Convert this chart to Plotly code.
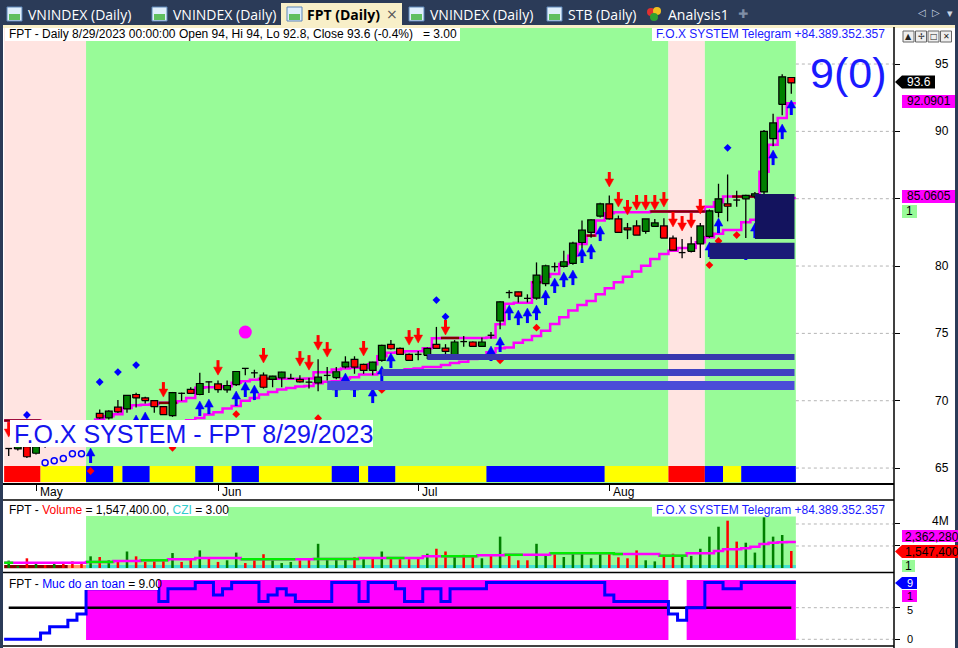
import plotly.graph_objects as go

W, H = 958, 648
FONT = "Liberation Sans, Arial, sans-serif"

# ---- FPT daily bars, 25 Apr -> 29 Aug 2023 (bar index 0..86) ----
OPEN = [66.45, 66.42, 66.58, 66.1, 66.6, 67.1, 67.4, 67.6, 68.0, 67.8,
        69.06, 68.73, 69.52, 69.39, 70.46, 70.21, 70.01, 69.56, 68.9, 70.55,
        70.84, 70.46, 71.4, 71.25, 70.8, 71.2, 72.4, 72.07, 71.9, 71.58,
        71.7, 71.65, 71.58, 71.38, 71.33, 71.88, 71.72, 72.52, 73.07, 72.7,
        72.25, 72.99, 74.19, 73.89, 73.44, 73.44, 73.37, 74.19, 73.91, 73.26,
        74.39, 74.36, 74.04, 74.86, 75.92, 78.03, 78.08, 77.6, 77.62, 78.7,
        79.95, 79.97, 80.2, 81.75, 82.5, 83.7, 84.62, 83.5, 82.83, 82.98,
        82.58, 82.95, 82.98, 82.08, 81.0, 81.09, 81.64, 82.2, 83.99, 84.62,
        84.9, 84.99, 85.2, 85.5, 89.46, 92.0, 94.0]
HIGH = [66.45, 66.6, 66.6, 66.6, 67.3, 67.6, 67.9, 68.2, 68.3, 68.4,
        69.34, 69.3, 70.05, 70.4, 70.6, 70.3, 70.05, 69.6, 70.65, 70.6,
        71.0, 72.07, 71.42, 71.5, 71.5, 72.2, 72.42, 72.3, 72.1, 71.85,
        72.15, 72.0, 71.9, 71.7, 73.07, 72.5, 72.5, 73.3, 73.3, 72.75,
        72.9, 74.15, 74.5, 73.95, 73.5, 73.7, 73.95, 75.48, 74.2, 74.5,
        74.8, 74.4, 74.7, 75.1, 77.4, 78.2, 78.1, 77.9, 80.27, 80.1,
        80.27, 81.14, 81.8, 83.38, 83.5, 84.7, 85.24, 83.75, 83.2, 83.4,
        83.5, 83.5, 83.55, 82.26, 82.0, 82.18, 83.2, 84.2, 86.11, 86.8,
        85.6, 85.3, 85.5, 90.1, 91.3, 94.25, 94.0]
LOW = [65.9, 66.3, 65.75, 66.0, 66.5, 66.9, 67.1, 67.3, 67.5, 67.5,
       68.67, 68.6, 69.09, 69.1, 69.5, 69.8, 69.1, 68.95, 68.8, 70.0,
       70.5, 70.4, 70.58, 70.6, 70.6, 71.1, 71.9, 71.7, 70.9, 71.0,
       71.0, 71.65, 71.35, 70.9, 70.7, 71.5, 71.6, 72.4, 72.0, 72.0,
       71.9, 72.9, 73.8, 73.4, 73.0, 73.0, 73.1, 73.85, 73.3, 73.2,
       74.0, 74.0, 74.0, 74.6, 75.3, 77.6, 77.3, 77.3, 77.5, 78.5,
       79.6, 79.9, 80.1, 81.3, 82.1, 83.6, 83.45, 82.5, 82.0, 82.3,
       82.4, 82.9, 82.08, 81.18, 80.57, 81.0, 80.6, 82.1, 83.6, 83.32,
       84.4, 82.09, 85.0, 85.0, 88.9, 91.2, 92.8]
CLOSE = [66.45, 66.58, 65.84, 66.58, 67.1, 67.4, 67.6, 68.0, 67.8, 68.3,
         68.73, 69.22, 69.17, 70.39, 70.21, 70.01, 69.56, 68.97, 70.6, 70.55,
         70.54, 71.28, 71.4, 70.83, 71.13, 72.17, 72.4, 72.07, 71.0, 71.83,
         72.12, 71.65, 71.4, 71.38, 71.75, 71.88, 72.15, 72.87, 72.5, 72.25,
         72.87, 74.11, 73.86, 73.44, 73.0, 73.44, 73.89, 73.89, 73.66, 74.36,
         74.39, 74.04, 74.36, 74.86, 77.34, 78.03, 77.76, 77.6, 79.33, 80.02,
         79.95, 80.32, 81.7, 82.66, 83.43, 84.62, 83.5, 82.5, 82.68, 82.3,
         83.5, 83.2, 82.08, 81.18, 81.0, 81.64, 82.98, 84.1, 84.99, 84.44,
         84.9, 85.24, 85.36, 90.0, 90.63, 94.05, 93.6]

MONTHS = ["May", "Jun", "Jul", "Aug"]
MONTH_START = [3, 23, 45, 66]

# trailing stops (magenta staircases)
STOP_FAST = [68.53, 68.53, 68.53, 68.53, 68.3, 68.3, 68.3, 68.3, 68.3, 68.3,
             68.6, 68.85, 69.0, 69.46, 69.66, 69.7, 69.76, 69.84, 69.84, 69.96,
             70.2, 70.96, 71.0, 71.0, 71.08, 71.33, 71.45, 71.55, 71.63, 71.63,
             71.63, 71.63, 71.63, 71.65, 72.12, 72.12, 72.32, 72.4, 72.44, 72.44,
             72.7, 73.3, 73.56, 73.6, 73.68, 73.68, 73.9, 74.63, 74.66, 74.66,
             74.66, 74.66, 74.66, 74.7, 75.68, 77.2, 77.28, 77.28, 78.8, 79.2,
             79.4, 80.15, 80.77, 81.64, 82.26, 83.38, 83.92, 84.0, 84.0, 84.0,
             84.0, 84.05, 84.05, 84.05, 84.05, 84.05, 84.05, 84.4, 84.74, 85.16,
             85.16, 85.16, 85.16, 87.0, 89.0, 91.0, 92.0901]
STOP_SLOW = [None, None, 66.8, 66.9, 67.0, 67.1, 67.3, 67.5, 67.7, 67.9,
             68.0, 68.1, 68.2, 68.25, 68.3, 68.35, 68.4, 68.45, 68.45, 68.45,
             68.55, 68.72, 68.97, 69.15, 69.42, 69.6, 70.0, 70.2, 70.46, 70.65,
             70.83, 70.95, 71.06, 71.1, 71.3, 71.4, 71.45, 71.65, 71.75, 71.95,
             71.95, 72.1, 72.2, 72.25, 72.33, 72.4, 72.5, 72.5, 72.65, 72.8,
             72.9, 73.1, 73.3, 73.6, 73.9, 73.95, 74.3, 74.5, 74.8, 75.2,
             75.7, 76.2, 76.7, 77.1, 77.4, 77.9, 78.36, 78.8, 79.2, 79.6,
             80.02, 80.52, 80.9, 81.14, 81.34, 81.34, 81.76, 82.13, 82.4, 82.68,
             82.68, 83.25, 83.43, 83.9, 84.3, 84.7, 85.0605]
STOP_FAST_HOLD = [0, 1, 2, 3, 17, 18, 28, 29, 48, 49, 58, 64, 71, 72, 73, 74, 75, 76, 80, 81, 82]

SELL_BARS = [0, 17, 23, 28, 32, 33, 34, 35, 39, 44, 45, 48,
             66, 67, 68, 69, 70, 71, 72, 73, 74, 75, 76]
SELL_TIPS = [67.3, 70.27, 71.9, 72.8, 72.57, 72.27, 73.76, 73.24, 73.32, 74.13, 74.28, 74.88,
             85.87, 84.38, 83.79, 84.16, 84.16, 84.16, 84.38, 82.9, 82.6, 82.82, 83.86]
BUY_BARS = [9, 14, 15, 21, 22, 25, 26, 27, 36, 37, 38, 40, 41, 42,
            53, 54, 55, 56, 57, 58, 59, 60, 61, 62, 63, 64, 65,
            77, 78, 81, 82, 84, 85, 86]
BUY_TIPS = [66.49, 68.94, 69.16, 69.98, 70.12, 70.72, 71.39, 71.16, 71.39, 72.05, 71.39, 70.94, 72.57, 73.54,
            74.06, 74.73, 77.1, 76.73, 76.88, 77.1, 78.22, 79.11, 79.55, 79.7, 81.34, 81.63, 82.97,
            81.78, 83.56, 81.56, 83.19, 88.61, 90.54, 92.33]
BLUE_DOT_BARS = [2, 10, 12, 14, 47, 48, 79]
BLUE_DOT_Y = [68.94, 71.39, 72.13, 72.65, 77.47, 76.24, 88.78]
RED_DOT_BARS = [9, 18, 25, 34, 41, 54, 58, 77, 78, 80]
RED_DOT_Y = [64.78, 66.5, 69.0, 68.7, 70.8, 73.0, 75.42, 80.07, 81.86, 82.3]
RING_BARS = [4, 5, 6, 7, 8]
RING_Y = [65.4, 65.55, 65.7, 66.07, 66.07]
BIG_DOT_BAR, BIG_DOT_Y = 26, 75.1

BG_RUNS = [("pink", 9), ("green", 64), ("pink", 4), ("green", 10)]
BAND_RUNS = [("red", 4), ("yellow", 5), ("blue", 3), ("yellow", 1), ("blue", 3), ("yellow", 5),
             ("blue", 2), ("yellow", 2), ("blue", 3), ("yellow", 8), ("blue", 3), ("yellow", 1),
             ("blue", 3), ("yellow", 10), ("blue", 13), ("yellow", 7), ("red", 4), ("blue", 2),
             ("yellow", 2), ("blue", 6)]
ZONES = [  # first bar, low, high, colour
    (35, 70.79, 71.46, "#4b4bd8"),
    (41, 71.83, 72.35, "#4141c2"),
    (46, 73.02, 73.47, "#3838ae"),
    (77, 80.52, 81.73, "#1b1b78"),
    (82, 82.0, 85.35, "#13135e"),
]

# ---- volume pane (millions of shares) ----
VOLUME_MLN = [0.67, 0.2, 0.88, 0.4, 0.27, 0.4, 0.55, 0.6, 0.48, 1.06,
              1.0, 0.7, 0.6, 1.5, 1.06, 0.55, 0.6, 0.7, 1.36, 0.55,
              0.79, 1.6, 0.88, 0.55, 0.7, 1.4, 0.45, 0.7, 1.25, 0.7,
              0.45, 0.55, 0.7, 0.88, 2.2, 0.88, 0.88, 0.8, 0.97, 0.8,
              0.97, 1.5, 0.97, 0.8, 0.8, 0.97, 1.3, 1.75, 1.5, 1.06,
              1.2, 1.15, 0.88, 1.25, 2.85, 1.2, 0.7, 0.7, 2.2, 1.25,
              1.25, 1.0, 1.3, 1.3, 0.88, 1.45, 1.3, 0.97, 0.88, 1.6,
              0.7, 0.6, 1.15, 1.3, 1.1, 1.1, 1.75, 2.85, 3.75, 4.3,
              2.4, 2.3, 1.4, 4.6, 2.85, 3.0, 1.5474]
VOL_UP = [1, 1, 0, 1, 0, 1, 0, 0, 0, 1,
          0, 1, 0, 1, 0, 0, 0, 0, 1, 0,
          0, 1, 0, 0, 1, 1, 0, 0, 0, 1,
          1, 1, 0, 0, 1, 1, 1, 1, 0, 1,
          0, 1, 0, 0, 0, 0, 1, 0, 0, 1,
          0, 0, 1, 0, 1, 0, 0, 0, 1, 1,
          0, 1, 1, 1, 1, 1, 0, 0, 0, 0,
          1, 1, 0, 0, 1, 1, 1, 1, 1, 0,
          0, 1, 1, 1, 1, 1, 0]
VOL_MA_MLN = [0.48, 0.48, 0.48, 0.48, 0.48, 0.48, 0.48, 0.48, 0.48, 0.55,
              0.55, 0.55, 0.64, 0.64, 0.64, 0.7, 0.7, 0.7, 0.79, 0.79,
              0.79, 0.91, 0.91, 0.91, 0.91, 0.91, 0.79, 0.79, 0.79, 0.79,
              0.79, 0.79, 0.79, 0.79, 0.82, 0.82, 0.82, 0.82, 0.82, 0.91,
              0.91, 0.91, 0.91, 0.91, 0.91, 0.91, 1.06, 1.06, 1.06, 1.06,
              1.06, 1.06, 1.15, 1.15, 1.15, 1.2, 1.2, 1.2, 1.2, 1.2,
              1.33, 1.33, 1.33, 1.33, 1.33, 1.33, 1.33, 1.27, 1.27, 1.27,
              1.27, 1.27, 1.12, 1.12, 1.12, 1.33, 1.33, 1.33, 1.55, 1.7,
              1.7, 1.8, 1.94, 2.18, 2.3, 2.33, 2.36228]
VOL_MA_UP = [1, 0, 0, 0, 0, 0, 0, 0, 0, 1,
             1, 1, 0, 0, 0, 1, 1, 1, 0, 0,
             0, 0, 0, 0, 0, 0, 1, 1, 1, 1,
             1, 1, 0, 0, 1, 1, 1, 1, 1, 0,
             0, 0, 1, 1, 0, 0, 0, 0, 1, 1,
             1, 1, 0, 0, 0, 1, 1, 0, 0, 0,
             1, 1, 1, 1, 1, 1, 1, 1, 0, 0,
             0, 0, 1, 1, 1, 0, 0, 0, 0, 0,
             0, 0, 0, 0, 0, 0, 0]
VOL_STRIP_RUNS = [("darkred", 7), ("orange", 2), ("cyan", 78)]

# ---- "Muc do an toan" (safety level) pane ----
SAFETY = [0, 0, 0, 0, 1, 2, 2, 3, 4, 8,
          8, 8, 8, 8, 8, 8, 8, 6, 8, 8,
          8, 9, 9, 7, 8, 9, 9, 9, 6, 7,
          8, 7, 6, 6, 6, 6, 9, 9, 9, 6,
          9, 9, 9, 8, 6, 6, 8, 8, 6, 8,
          8, 8, 8, 9, 9, 9, 9, 9, 9, 9,
          9, 9, 9, 9, 9, 9, 7, 6, 6, 6,
          6, 6, 6, 4, 3, 5, 5, 9, 9, 8,
          8, 9, 9, 9, 9, 9, 9]
SAFE_LEVEL = 5

COL = {"pink": "#ffe4e1", "green": "#98fb98", "red": "#ff0000", "yellow": "#ffff00",
       "blue": "#0000ff", "darkred": "#800000", "orange": "#ff9966", "cyan": "#40e0d0"}
NAVY = "#2b3b58"
CREAM = "#f8efc8"

N = len(CLOSE)
XR = [(3 - 8.7) / 9.1, (894 - 8.7) / 9.1]          # bar 0 at x=8.7px, 9.1px per bar
PRICE_RANGE = [63.89, 97.75]
VOL_RANGE = [-0.364e6, 6.18e6]
SAFE_RANGE = [-1.06, 10.49]
PPX = (PRICE_RANGE[1] - PRICE_RANGE[0]) / (483 - 27)  # price units per pixel


def px(x):
    return x / W


def py(y):
    return 1 - y / H


def expand(run_list):
    out = []
    for c, k in run_list:
        out += [c] * k
    return out


def runs(seq):
    out, s = [], 0
    for i in range(1, len(seq) + 1):
        if i == len(seq) or seq[i] != seq[s]:
            out.append((s, i - 1, seq[s]))
            s = i
    return out


def steps(vals):
    pts = [(i, v) for i, v in enumerate(vals) if v is not None]
    return [i - 0.5 for i, _ in pts] + [pts[-1][0] + 0.5], [v for _, v in pts] + [pts[-1][1]]


def segments(vals, keep):
    xs, ys = [], []
    for s, e, flag in runs(keep):
        if not flag:
            continue
        x, y = steps(vals[s:e + 1])
        xs += [v + s for v in x] + [None]
        ys += y + [None]
    return xs, ys


fig = go.Figure()
shapes, notes = [], []


def rect_px(x0, y0, x1, y1, fill, line=None, lw=0, layer="above"):
    shapes.append(dict(type="rect", xref="paper", yref="paper", x0=px(x0), x1=px(x1),
                       y0=py(y1), y1=py(y0), fillcolor=fill, layer=layer,
                       line=dict(color=line or fill, width=lw)))


def line_px(x0, y0, x1, y1, color="black", w=1.5):
    shapes.append(dict(type="line", xref="paper", yref="paper", x0=px(x0), x1=px(x1),
                       y0=py(y0), y1=py(y1), line=dict(color=color, width=w)))


def tag_px(x0, y0, x1, y1, fill, arrow=False):
    ym = (y0 + y1) / 2
    if arrow:
        pts = [(x0 - 7, ym), (x0, y0), (x1, y0), (x1, y1), (x0, y1)]
    else:
        pts = [(x0, y0), (x1, y0), (x1, y1), (x0, y1)]
    path = "M " + " L ".join(f"{px(a):.5f},{py(b):.5f}" for a, b in pts) + " Z"
    shapes.append(dict(type="path", xref="paper", yref="paper", path=path,
                       fillcolor=fill, line=dict(width=0), layer="above"))


def note(text, x, y, size=12, color="black", anchor="left", family=FONT, xref="paper", yref="paper",
         yshift=0):
    notes.append(dict(text=text, x=px(x) if xref == "paper" else x, y=py(y) if yref == "paper" else y,
                      xref=xref, yref=yref, xanchor=anchor, yanchor="middle", showarrow=False,
                      yshift=yshift, font=dict(family=family, size=size, color=color)))


# ---------------- price pane backgrounds ----------------
for s, e, c in runs(expand(BG_RUNS)):
    shapes.append(dict(type="rect", xref="x", yref="y", layer="below",
                       x0=max(s - 0.5, XR[0]), x1=e + 0.5, y0=PRICE_RANGE[0], y1=PRICE_RANGE[1],
                       fillcolor=COL[c], line=dict(width=0)))
for s, e, c in runs(expand(BAND_RUNS)):
    shapes.append(dict(type="rect", xref="x", yref="y", layer="below",
                       x0=max(s - 0.5, XR[0]), x1=e + 0.5, y0=63.96, y1=65.15,
                       fillcolor=COL[c], line=dict(width=0)))
for t in [65, 70, 75, 80, 85, 90, 95]:
    shapes.append(dict(type="line", xref="x", yref="y", x0=N - 0.5, x1=XR[1], y0=t, y1=t,
                       line=dict(color="#b4b4b4", width=1, dash="dot"), layer="below"))

# ---------------- price pane traces ----------------
xs, ys = steps(STOP_SLOW)
fig.add_trace(go.Scatter(x=xs, y=ys, mode="lines", line=dict(color="#ff00ff", width=2.5, shape="hv")))
xs, ys = steps(STOP_FAST)
fig.add_trace(go.Scatter(x=xs, y=ys, mode="lines", line=dict(color="#ff00ff", width=2.5, shape="hv")))
xs, ys = segments(STOP_FAST, [1 if i in STOP_FAST_HOLD else 0 for i in range(N)])
fig.add_trace(go.Scatter(x=xs, y=ys, mode="lines", line=dict(color="#800000", width=2.5, shape="hv")))

wx, wy = [], []
bodies = {"up": ([], []), "dn": ([], [])}
HW = 0.37
for i, (o, h, l, c) in enumerate(zip(OPEN, HIGH, LOW, CLOSE)):
    lo, hi = min(o, c), max(o, c)
    if o == c:
        wx += [i, i, None, i - HW, i + HW, None]
        wy += [l, h, None, c, c, None]
        continue
    if l < lo:
        wx += [i, i, None]
        wy += [l, lo, None]
    if h > hi:
        wx += [i, i, None]
        wy += [hi, h, None]
    bx, by = bodies["up" if c > o else "dn"]
    bx += [i - HW, i + HW, i + HW, i - HW, i - HW, None]
    by += [lo, lo, hi, hi, lo, None]
fig.add_trace(go.Scatter(x=wx, y=wy, mode="lines", line=dict(color="black", width=1.3)))
for k, fc in [("up", "#008000"), ("dn", "#ff0000")]:
    bx, by = bodies[k]
    fig.add_trace(go.Scatter(x=bx, y=by, mode="lines", fill="toself", fillcolor=fc,
                             line=dict(color="black", width=1.2)))

fig.add_trace(go.Scatter(x=RED_DOT_BARS, y=RED_DOT_Y, mode="markers",
                         marker=dict(symbol="diamond", size=6, color="#ff0000", line_width=0)))
fig.add_trace(go.Scatter(x=BLUE_DOT_BARS, y=BLUE_DOT_Y, mode="markers",
                         marker=dict(symbol="diamond", size=6, color="#0000ff", line_width=0)))
fig.add_trace(go.Scatter(x=RING_BARS, y=RING_Y, mode="markers",
                         marker=dict(symbol="circle-open", size=6, color="#0000ff", line=dict(width=1.5))))
fig.add_trace(go.Scatter(x=[BIG_DOT_BAR], y=[BIG_DOT_Y], mode="markers",
                         marker=dict(symbol="circle", size=13, color="#ff00ff", line_width=0)))


def arrows(bars, tips, color, up):
    d = 1 if up else -1
    sx, sy, hx, hy = [], [], [], []
    for b, t in zip(bars, tips):
        sx += [b, b, None]
        sy += [t - d * 7 * PPX, t - d * 15 * PPX, None]
        hx += [b - 0.48, b + 0.48, b, b - 0.48, None]
        hy += [t - d * 8 * PPX, t - d * 8 * PPX, t, t - d * 8 * PPX, None]
    fig.add_trace(go.Scatter(x=sx, y=sy, mode="lines", line=dict(color=color, width=3)))
    fig.add_trace(go.Scatter(x=hx, y=hy, mode="lines", fill="toself", fillcolor=color,
                             line=dict(color=color, width=0.5)))


arrows(SELL_BARS, SELL_TIPS, "#ff0000", False)
arrows(BUY_BARS, BUY_TIPS, "#0000ff", True)

for start, lo, hi, col in ZONES:
    shapes.append(dict(type="rect", xref="x", yref="y", x0=start, x1=N - 1 + 0.35, y0=lo, y1=hi,
                       fillcolor=col, line=dict(width=0), layer="above"))

# ---------------- volume pane ----------------
first_green = next(s for s, e, c in runs(expand(BG_RUNS)) if c == "green")
shapes.append(dict(type="rect", xref="x2", yref="y2", layer="below", x0=first_green - 0.5, x1=N - 0.5,
                   y0=0, y1=5.55e6, fillcolor=COL["green"], line=dict(width=0)))
for s, e, c in runs(expand(VOL_STRIP_RUNS)):
    shapes.append(dict(type="rect", xref="x2", yref="y2", layer="below",
                       x0=max(s - 0.5, XR[0]), x1=e + 0.5, y0=-0.03e6, y1=0.28e6,
                       fillcolor=COL[c], line=dict(width=0)))
for t in [2e6, 4e6]:
    shapes.append(dict(type="line", xref="x2", yref="y2", x0=N - 0.5, x1=XR[1], y0=t, y1=t,
                       line=dict(color="#b4b4b4", width=1, dash="dot"), layer="below"))
fig.add_trace(go.Bar(x=list(range(N)), y=[v * 1e6 for v in VOLUME_MLN], width=0.28,
                     marker=dict(color=["#008000" if u else "#ff0000" for u in VOL_UP], line_width=0),
                     xaxis="x2", yaxis="y2"))
ma = [v * 1e6 for v in VOL_MA_MLN]
xs, ys = steps(ma)
fig.add_trace(go.Scatter(x=xs, y=ys, mode="lines", line=dict(color="#ff00ff", width=2.5, shape="hv"),
                         xaxis="x2", yaxis="y2"))
xs, ys = segments(ma, VOL_MA_UP)
fig.add_trace(go.Scatter(x=xs, y=ys, mode="lines", line=dict(color="#00ee00", width=2.5, shape="hv"),
                         xaxis="x2", yaxis="y2"))

# ---------------- safety pane ----------------
for s, e, ok in runs([v >= SAFE_LEVEL for v in SAFETY]):
    if ok:
        shapes.append(dict(type="rect", xref="x3", yref="y3", layer="below", x0=s - 0.5, x1=e + 0.5,
                           y0=-0.1, y1=9.4, fillcolor="#ff00ff", line=dict(width=0)))
for t in [0, 5]:
    shapes.append(dict(type="line", xref="x3", yref="y3", x0=N - 0.5, x1=XR[1], y0=t, y1=t,
                       line=dict(color="#b4b4b4", width=1, dash="dot"), layer="below"))
fig.add_trace(go.Scatter(x=[0, N - 1], y=[SAFE_LEVEL, SAFE_LEVEL], mode="lines",
                         line=dict(color="black", width=2.5), xaxis="x3", yaxis="y3"))
xs, ys = steps(SAFETY)
fig.add_trace(go.Scatter(x=xs, y=ys, mode="lines", line=dict(color="#0000ff", width=3, shape="hv"),
                         xaxis="x3", yaxis="y3"))

# ---------------- frame, tabs, separators ----------------
rect_px(0, 0, W, 25, NAVY)
rect_px(0, 25, W, 28, CREAM)
rect_px(0, 25, 3, H, NAVY)
rect_px(955, 25, W, H, NAVY)
rect_px(281, 3, 402, 28, CREAM)
TABS = [("VNINDEX (Daily)", 7), ("VNINDEX (Daily)", 152), ("FPT (Daily)", 287),
        ("VNINDEX (Daily)", 409), ("STB (Daily)", 547)]
for k, (label, x) in enumerate(TABS):
    rect_px(x, 7, x + 15, 21, "#dfeefb", "#5d86b8", 1)
    rect_px(x + 2, 14, x + 13, 20, "#5fbf5f")
    if k == 2:
        note("<b>" + label + "</b>", x + 18, 14.5, 14, "black", family="Open Sans, sans-serif")
        note("×", 392, 13.5, 14, "#555555", "center", family="DejaVu Sans")
    else:
        note(label, x + 19, 14.5, 14, "white", family="Open Sans, sans-serif")
for cx, cy, cc in [(651, 12, "#e03030"), (657, 11, "#f0c020"), (654, 17, "#30a030")]:
    shapes.append(dict(type="circle", xref="paper", yref="paper", x0=px(cx - 4), x1=px(cx + 4),
                       y0=py(cy + 4), y1=py(cy - 4), fillcolor=cc, line=dict(width=0)))
note("Analysis1", 666, 14.5, 14, "white", family="Open Sans, sans-serif")
note("✚", 743, 13.5, 12, "#7f8ea6", "center", family="DejaVu Sans")
note("◁  ▷", 929, 13, 10, "#c9d3e2", "center", family="DejaVu Sans")
note("▾", 950, 14, 11, "#c9d3e2", "center", family="DejaVu Sans")

line_px(3, 500, 894, 500)
line_px(3, 572.5, 894, 572.5)
line_px(3, 646, 894, 646)
line_px(894, 27, 894, H)
for k, g in enumerate(["▲", "✢", "□", "✕"]):
    x0 = 903 + k * 12.5
    rect_px(x0, 31, x0 + 11, 42, "#eeeeee", "#666666", 1)
    note(g, x0 + 5.5, 36.5, 8, "#222222", "center", family="DejaVu Sans")

# ---------------- text labels ----------------
rect_px(5, 28, 460, 41, "white")
note(f"FPT - Daily 8/29/2023 00:00:00 Open {OPEN[-1]:g}, Hi {HIGH[-1]:g}, Lo {LOW[-1]:g}, "
     f"Close {CLOSE[-1]:g} (-0.4%)&nbsp;&nbsp; = 3.00", 7, 34.5)
for y in (34.5, 510):
    rect_px(652, y - 6.5, 885, y + 6.5, "white")
    note("F.O.X SYSTEM Telegram +84.389.352.357", 654, y, 12, "#1a1aff")
rect_px(10, 420, 373, 447, "white")
note("F.O.X SYSTEM - FPT 8/29/2023", 12, 434, 25, "#1515ee")
note(f"{SAFETY[-1]}(0)", 808, 73, 43, "#1a1aff")

rect_px(5, 503, 228, 516, "white")
note(f"FPT - <span style='color:#ff0000'>Volume</span> = {VOLUME_MLN[-1] * 1e6:,.2f}, "
     f"<span style='color:#33cccc'>CZI</span> = 3.00", 7, 510)
rect_px(5, 577, 158, 590, "white")
note(f"FPT - <span style='color:#0000ff'>Muc do an toan</span> = {SAFETY[-1]:.2f}", 7, 583.5)

# axis labels
for t in [65, 70, 75, 80, 90, 95]:
    note(str(t), 951, t, 12, "black", "right", xref="paper", yref="y")
note("4M", 951, 4e6, 12, "black", "right", yref="y2", yshift=3)
note("5", 910, 5, 11, "black", "center", yref="y3", yshift=-2)
note("0", 910, 0, 11, "black", "center", yref="y3")
for m, s in zip(MONTHS, MONTH_START):
    notes.append(dict(text=m, x=s, y=py(492), xref="x", yref="paper", xanchor="left", yanchor="middle",
                      xshift=2, showarrow=False, font=dict(family=FONT, size=12, color="black")))

# last-value tags
tag_px(902, 75.5, 935, 88.5, "black", arrow=True)
note(f"{CLOSE[-1]:g}", 918.5, 82, 12, "white", "center")
tag_px(902, 95, 955, 108, "#ff00ff")
note(f"{STOP_FAST[-1]:.4f}", 928.5, 101.5, 12, "black", "center")
tag_px(902, 190, 955, 203, "#ff00ff")
note(f"{STOP_SLOW[-1]:.4f}", 928.5, 196.5, 12, "black", "center")
tag_px(902, 205, 917, 218, COL["green"])
note("1", 909.5, 211.5, 12, "black", "center")

tag_px(902, 530, 958, 542, "#ff00ff")
note(f"{VOL_MA_MLN[-1] * 1e6:,.0f}", 903, 536.5, 12, "black")
tag_px(902, 545, 958, 558, "#ff0000", arrow=True)
note(f"{VOLUME_MLN[-1] * 1e6:,.0f}", 903, 551.5, 12, "black")
tag_px(902, 560, 915, 572, COL["green"])
note("1", 908.5, 566, 12, "black", "center")

tag_px(902, 577, 917, 589, "#0000ff", arrow=True)
note(f"{SAFETY[-1]}", 909.5, 583, 11, "white", "center")
tag_px(902, 590, 917, 602, "#ff00ff")
note("1", 909.5, 596, 11, "black", "center")

fig.update_traces(hoverinfo="skip", showlegend=False)
fig.update_layout(
    width=W, height=H, margin=dict(l=0, r=0, t=0, b=0), template="none",
    paper_bgcolor="white", plot_bgcolor="white", showlegend=False, hovermode=False,
    barmode="overlay", shapes=shapes, annotations=notes,
    xaxis=dict(domain=[px(3), px(894)], range=XR, anchor="y", showgrid=False, zeroline=False,
               showline=True, linecolor="black", linewidth=1.5, ticks="outside", tickvals=MONTH_START,
               ticklen=6, tickcolor="black", showticklabels=False, fixedrange=True),
    xaxis2=dict(matches="x", domain=[px(3), px(894)], anchor="y2", visible=False),
    xaxis3=dict(matches="x", domain=[px(3), px(894)], anchor="y3", visible=False),
    yaxis=dict(domain=[py(483), py(27)], range=PRICE_RANGE, side="right", anchor="x", showgrid=False,
               zeroline=False, ticks="outside", ticklen=5, tickcolor="black",
               tickvals=[65, 70, 75, 80, 85, 90, 95], showticklabels=False, fixedrange=True),
    yaxis2=dict(domain=[py(572), py(500)], range=VOL_RANGE, side="right", anchor="x2", showgrid=False,
                zeroline=False, ticks="outside", ticklen=5, tickcolor="black",
                tickvals=[2e6, 4e6], showticklabels=False, fixedrange=True),
    yaxis3=dict(domain=[py(646), py(573)], range=SAFE_RANGE, side="right", anchor="x3", showgrid=False,
                zeroline=False, ticks="outside", ticklen=5, tickcolor="black",
                tickvals=[0, 5], showticklabels=False, fixedrange=True),
)

fig.write_html("out.html", config={"displayModeBar": False},
               post_script="document.body.style.margin='0px';document.body.style.overflow='hidden';")
